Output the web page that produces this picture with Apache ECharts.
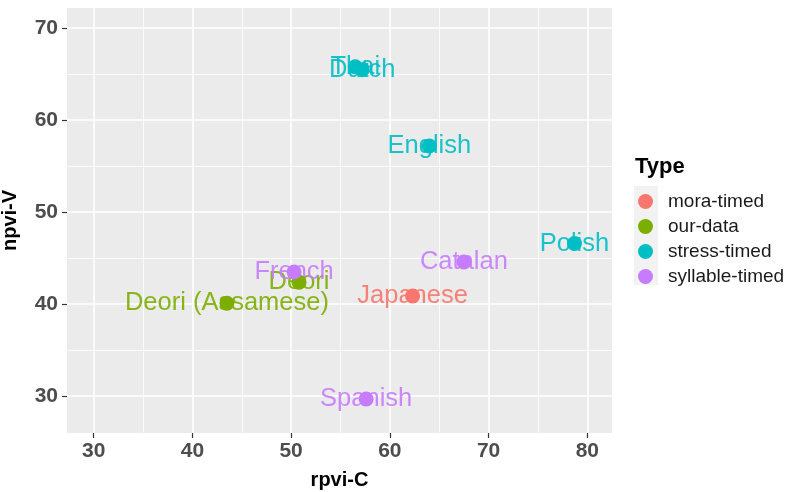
<!DOCTYPE html>
<html>
<head>
<meta charset="utf-8">
<script src="https://cdn.jsdelivr.net/npm/echarts@6/dist/echarts.min.js"></script>
<style>
  html, body { margin: 0; padding: 0; background: #ffffff; }
  #chart { width: 803px; height: 492px; }
</style>
</head>
<body>
<div id="chart"></div>
<script>
// Rhythm metrics per language: rPVI of consonantal intervals vs nPVI of vocalic intervals
const types = ['mora-timed', 'our-data', 'stress-timed', 'syllable-timed'];
const typeColors = ['#F8766D', '#7CAE00', '#00BFC4', '#C77CFF'];

const languages = ['Japanese', 'Deori', 'Deori (Assamese)', 'Thai', 'Dutch', 'English', 'Polish', 'French', 'Catalan', 'Spanish'];
const languageType = ['mora-timed', 'our-data', 'our-data', 'stress-timed', 'stress-timed', 'stress-timed', 'stress-timed', 'syllable-timed', 'syllable-timed', 'syllable-timed'];
const rpviC = [62.3, 50.8, 43.5, 56.5, 57.2, 64.0, 78.7, 50.3, 67.5, 57.6];
const npviV = [40.9, 42.4, 40.1, 65.8, 65.5, 57.2, 46.6, 43.5, 44.6, 29.7];

const xTicks = [30, 40, 50, 60, 70, 80];
const xMinor = [35, 45, 55, 65, 75];
const yTicks = [30, 40, 50, 60, 70];
const yMinor = [35, 45, 55, 65];

const FONT = 'Liberation Sans, Arial, sans-serif';
const tickLabelStyle = { color: '#4D4D4D', fontSize: 21, fontWeight: 'bold', fontFamily: FONT };

function pointsOf(type) {
  const out = [];
  languages.forEach((name, i) => {
    if (languageType[i] === type) out.push({ name: name, value: [rpviC[i], npviV[i]] });
  });
  return out;
}

const series = [];
types.forEach((t, k) => {
  // text labels sit underneath the points
  series.push({
    name: t + ' labels',
    type: 'scatter',
    xAxisIndex: 0, yAxisIndex: 0,
    z: 2,
    symbolSize: 1,
    itemStyle: { color: 'transparent' },
    silent: true,
    data: pointsOf(t),
    label: {
      show: true,
      position: 'inside',
      formatter: p => p.name,
      color: typeColors[k],
      fontSize: 25.5,
      fontFamily: FONT,
      opacity: 0.9
    }
  });
});
types.forEach((t, k) => {
  series.push({
    name: t,
    type: 'scatter',
    xAxisIndex: 0, yAxisIndex: 0,
    z: 3,
    symbol: 'circle',
    symbolSize: 15,
    itemStyle: { color: typeColors[k], opacity: 1 },
    data: pointsOf(t)
  });
});

function gridAxis(extra) {
  return Object.assign({
    type: 'value',
    axisLine: { show: false },
    axisTick: { show: false },
    axisLabel: { show: false },
    splitLine: { show: false }
  }, extra);
}

const option = {
  backgroundColor: '#ffffff',
  animation: false,
  title: {
    text: 'Type',
    left: 630, top: 151,
    textStyle: { fontSize: 22, fontWeight: 'bold', color: '#000000', fontFamily: FONT }
  },
  legend: {
    data: types,
    orient: 'vertical',
    left: 633, top: 187,
    icon: 'circle',
    itemWidth: 15, itemHeight: 15,
    itemGap: 6,
    textStyle: { fontSize: 19, color: '#1A1A1A', fontFamily: FONT, lineHeight: 18, padding: [0, 0, 0, 10] }
  },
  graphic: [{
    type: 'rect',
    left: 634, top: 186,
    shape: { width: 24, height: 99 },
    style: { fill: '#F2F2F2' },
    z: -1
  }],
  grid: {
    left: 67, right: 191, top: 8, bottom: 59,
    outerBoundsMode: 'none',
    containLabel: false,
    show: true, backgroundColor: '#EBEBEB', borderWidth: 0
  },
  xAxis: [
    {
      type: 'value', min: 27.3, max: 82.5,
      name: 'rpvi-C', nameLocation: 'middle', nameGap: 37,
      nameTextStyle: { fontSize: 20, fontWeight: 'bold', color: '#000000', fontFamily: FONT },
      axisLine: { show: false },
      axisTick: { show: true, customValues: xTicks, length: 5, lineStyle: { color: '#333333', width: 1.2 } },
      axisLabel: Object.assign({ customValues: xTicks, margin: 8 }, tickLabelStyle),
      splitLine: { show: true, lineStyle: { color: '#FFFFFF', width: 1.6 } }
    },
    gridAxis({ min: 27.3, max: 82.5, axisTick: { show: false, customValues: xMinor }, axisLabel: { show: false, customValues: xMinor },
      splitLine: { show: true, lineStyle: { color: '#FFFFFF', width: 0.8 } } })
  ],
  yAxis: [
    {
      type: 'value', min: 26.0, max: 72.2,
      name: 'npvi-V', nameLocation: 'middle', nameGap: 47,
      nameTextStyle: { fontSize: 20, fontWeight: 'bold', color: '#000000', fontFamily: FONT },
      axisLine: { show: false },
      axisTick: { show: true, customValues: yTicks, length: 5, lineStyle: { color: '#333333', width: 1.2 } },
      axisLabel: Object.assign({ customValues: yTicks, margin: 9 }, tickLabelStyle),
      splitLine: { show: true, lineStyle: { color: '#FFFFFF', width: 1.6 } }
    },
    gridAxis({ min: 26.0, max: 72.2, axisTick: { show: false, customValues: yMinor }, axisLabel: { show: false, customValues: yMinor },
      splitLine: { show: true, lineStyle: { color: '#FFFFFF', width: 0.8 } } })
  ],
  series: series
};

const chart = echarts.init(document.getElementById('chart'), null, { renderer: 'canvas' });
chart.setOption(option);
</script>
</body>
</html>
